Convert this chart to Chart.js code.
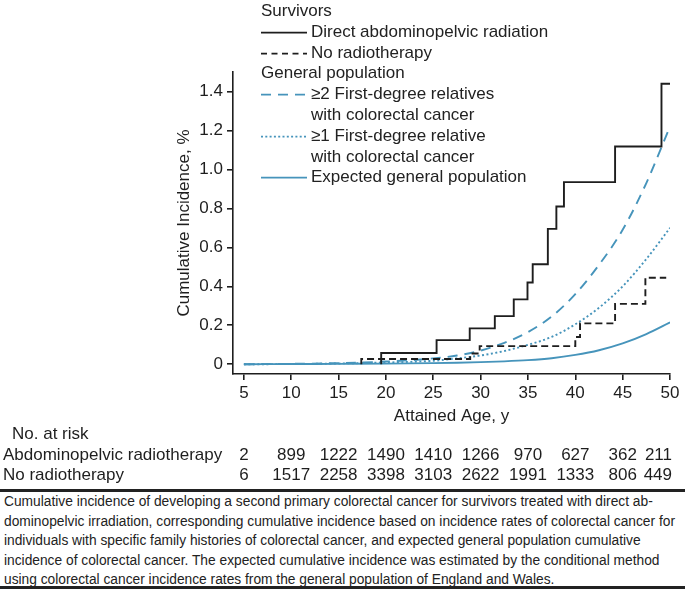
<!DOCTYPE html>
<html lang="en">
<head>
<meta charset="UTF-8">
<title>Cumulative incidence of second primary colorectal cancer</title>
<script src="https://cdn.jsdelivr.net/npm/chart.js@4"></script>
<style>
  body { margin: 0; background: #fff; font-family: "Liberation Sans", Arial, sans-serif; color: #222; }
  .wrap { position: relative; width: 685px; height: 589px; overflow: hidden; background: #fff; }
  #chart { position: absolute; left: 0; top: 0; }
  .legend { position: absolute; left: 261px; top: 1px; font-size: 17px; line-height: 20.8px; }
  .legend .row { position: relative; height: 20.8px; white-space: nowrap; }
  .legend .item { padding-left: 50px; }
  .legend svg { position: absolute; left: 0; top: 0; }
  .rule { position: absolute; left: 0; width: 685px; background: #222; }
  .caption { position: absolute; left: 4px; top: 492px; font-size: 14px; line-height: 19.6px; }
  .caption span { display: inline-block; white-space: nowrap; transform-origin: 0 50%; }
</style>
</head>
<body>
<div class="wrap">
  <canvas id="chart" width="685" height="485"></canvas>
  <div class="legend" id="legend"></div>
  <div class="rule" style="top:489px;height:2.5px"></div>
  <div class="caption" id="caption">
    <span>Cumulative incidence of developing a second primary colorectal cancer for survivors treated with direct ab-</span><br>
    <span>dominopelvic irradiation, corresponding cumulative incidence based on incidence rates of colorectal cancer for</span><br>
    <span>individuals with specific family histories of colorectal cancer, and expected general population cumulative</span><br>
    <span>incidence of colorectal cancer. The expected cumulative incidence was estimated by the conditional method</span><br>
    <span>using colorectal cancer incidence rates from the general population of England and Wales.</span>
  </div>
  <div class="rule" style="top:586px;height:3px"></div>
</div>

<script>
  // survivors, step functions (age where the new level starts, level in %)
  const radAges = [19.5, 19.5, 25.35, 28.85, 31.5, 33.5, 34.95, 35.5, 37.1, 38.0, 38.8, 44.2, 49.1, 50];
  const radVals = [0, 0.058, 0.124, 0.184, 0.247, 0.333, 0.42, 0.513, 0.695, 0.81, 0.935, 1.118, 1.44, 1.44];
  const noRadAges = [17.4, 17.4, 28.9, 29.9, 40.0, 40.5, 44.2, 47.4, 49.6];
  const noRadVals = [0, 0.027, 0.055, 0.093, 0.14, 0.21, 0.31, 0.444, 0.444];

  // general population curves
  const popAges = [5, 10, 15, 20, 25, 27.5, 30, 32.5, 35, 37.5, 40, 42.5, 45, 47.5, 50];
  const fdr2Vals = [0, 0.002, 0.006, 0.014, 0.03, 0.045, 0.07, 0.11, 0.165, 0.245, 0.36, 0.51, 0.69, 0.93, 1.22];
  const fdr1Vals = [0, 0.001, 0.004, 0.009, 0.018, 0.03, 0.045, 0.068, 0.1, 0.14, 0.205, 0.29, 0.40, 0.54, 0.70];
  const expVals = [0, 0.001, 0.002, 0.003, 0.006, 0.008, 0.011, 0.015, 0.021, 0.031, 0.048, 0.072, 0.107, 0.155, 0.215];

  // axes
  const xTicks = [5, 10, 15, 20, 25, 30, 35, 40, 45, 50];
  const yTicks = [0, 0.1, 0.2, 0.3, 0.4, 0.5, 0.6, 0.7, 0.8, 0.9, 1.0, 1.1, 1.2, 1.3, 1.4, 1.5];

  // number at risk
  const riskAges = [5, 10, 15, 20, 25, 30, 35, 40, 45, 50];
  const abdoRisk = [2, 899, 1222, 1490, 1410, 1266, 970, 627, 362, 211];
  const noRadRisk = [6, 1517, 2258, 3398, 3103, 2622, 1991, 1333, 806, 449];

  const BLACK = '#1e1e1e';
  const BLUE = '#4694bb';
  const FONT = '"Liberation Sans", Arial, sans-serif';

  function pts(xs, ys) {
    return xs.map((x, i) => ({ x: x, y: ys[i] }));
  }

  const legendItems = [
    { head: 'Survivors' },
    { lines: ['Direct abdominopelvic radiation'], color: BLACK, dash: '' },
    { lines: ['No radiotherapy'], color: BLACK, dash: '6 4.5' },
    { head: 'General population' },
    { lines: ['\u22652 First-degree relatives', 'with colorectal cancer'], color: BLUE, dash: '10 7' },
    { lines: ['\u22651 First-degree relative', 'with colorectal cancer'], color: BLUE, dash: '2 2.3' },
    { lines: ['Expected general population'], color: BLUE, dash: '' }
  ];

  const legend = document.getElementById('legend');
  legendItems.forEach(item => {
    if (item.head) {
      const row = document.createElement('div');
      row.className = 'row';
      row.textContent = item.head;
      legend.appendChild(row);
      return;
    }
    item.lines.forEach((txt, i) => {
      const row = document.createElement('div');
      row.className = 'row item';
      if (i === 0) {
        row.innerHTML = '<svg width="47" height="21"><line x1="0" y1="10.6" x2="46" y2="10.6" stroke="' +
          item.color + '" stroke-width="1.7"' + (item.dash ? ' stroke-dasharray="' + item.dash + '"' : '') + '/></svg>';
      }
      row.appendChild(document.createTextNode(txt));
      legend.appendChild(row);
    });
  });

  // squeeze caption lines to the narrow typeface width of the original
  const capLines = document.querySelectorAll('#caption span');
  const squeeze = 671 / capLines[1].getBoundingClientRect().width;
  capLines.forEach(s => s.style.transform = 'scaleX(' + squeeze + ')');

  const riskTable = {
    id: 'riskTable',
    afterDraw(chart) {
      const ctx = chart.ctx;
      const xs = chart.scales.x;
      ctx.save();
      ctx.font = '17px ' + FONT;
      ctx.fillStyle = BLACK;
      ctx.textBaseline = 'middle';
      ctx.textAlign = 'left';
      ctx.fillText('No. at risk', 12, 434);
      const rows = [['Abdominopelvic radiotherapy', abdoRisk], ['No radiotherapy', noRadRisk]];
      rows.forEach((row, r) => {
        const y = 455 + r * 20.5;
        ctx.textAlign = 'left';
        ctx.fillText(row[0], 3, y);
        ctx.textAlign = 'center';
        row[1].forEach((n, i) => {
          const s = String(n);
          const w = ctx.measureText(s).width;
          const cx = Math.min(xs.getPixelForValue(riskAges[i]), chart.width - 13 - w / 2);
          ctx.fillText(s, cx, y);
        });
      });
      ctx.restore();
    }
  };

  const ctx = document.getElementById('chart').getContext('2d');
  new Chart(ctx, {
    type: 'line',
    data: {
      datasets: [
        { label: 'Direct abdominopelvic radiation', data: pts(radAges, radVals), stepped: 'before',
          borderColor: BLACK, borderWidth: 1.9, pointRadius: 0 },
        { label: 'No radiotherapy', data: pts(noRadAges, noRadVals), stepped: 'before',
          borderColor: BLACK, borderWidth: 1.9, borderDash: [7, 4], pointRadius: 0 },
        { label: '\u22652 First-degree relatives with colorectal cancer', data: pts(popAges, fdr2Vals),
          borderColor: BLUE, borderWidth: 1.9, borderDash: [10, 7], pointRadius: 0, cubicInterpolationMode: 'monotone' },
        { label: '\u22651 First-degree relative with colorectal cancer', data: pts(popAges, fdr1Vals),
          borderColor: BLUE, borderWidth: 1.9, borderDash: [2, 2.5], pointRadius: 0, cubicInterpolationMode: 'monotone' },
        { label: 'Expected general population', data: pts(popAges, expVals),
          borderColor: BLUE, borderWidth: 1.9, pointRadius: 0, cubicInterpolationMode: 'monotone' }
      ]
    },
    options: {
      responsive: false,
      animation: false,
      devicePixelRatio: 1,
      layout: { padding: { left: 0, top: 72, right: 15, bottom: 0 } },
      plugins: { legend: { display: false }, tooltip: { enabled: false } },
      scales: {
        x: {
          type: 'linear',
          min: 3.85,
          max: 50,
          afterFit: s => { s.height = 111; },
          afterBuildTicks: s => { s.ticks = xTicks.map(v => ({ value: v })); },
          border: { display: true, color: BLACK, width: 1.6 },
          grid: { drawOnChartArea: false, drawTicks: true, tickLength: 6, color: BLACK, lineWidth: 1.6 },
          ticks: { color: BLACK, font: { size: 17, family: FONT }, padding: 3, maxRotation: 0 },
          title: { display: true, text: 'Attained Age, y', color: BLACK, font: { size: 17, family: FONT },
            padding: { top: 0, bottom: 58 } }
        },
        y: {
          type: 'linear',
          min: -0.05,
          max: 1.5,
          afterFit: s => { s.width = 233; },
          afterBuildTicks: s => { s.ticks = yTicks.map(v => ({ value: v })); },
          border: { display: true, color: BLACK, width: 1.6 },
          grid: { drawOnChartArea: false, drawTicks: true, tickLength: 6, color: BLACK, lineWidth: 1.6 },
          ticks: {
            color: BLACK, font: { size: 17, family: FONT }, padding: 4,
            callback: v => {
              const k = Math.round(v * 10);
              if (k % 2 !== 0) return '';
              return k === 0 ? '0' : (k / 10).toFixed(1);
            }
          },
          title: { display: true, text: 'Cumulative Incidence, %', color: BLACK, font: { size: 17, family: FONT },
            padding: { top: 174, bottom: 0 } }
        }
      }
    },
    plugins: [riskTable]
  });
</script>
</body>
</html>
